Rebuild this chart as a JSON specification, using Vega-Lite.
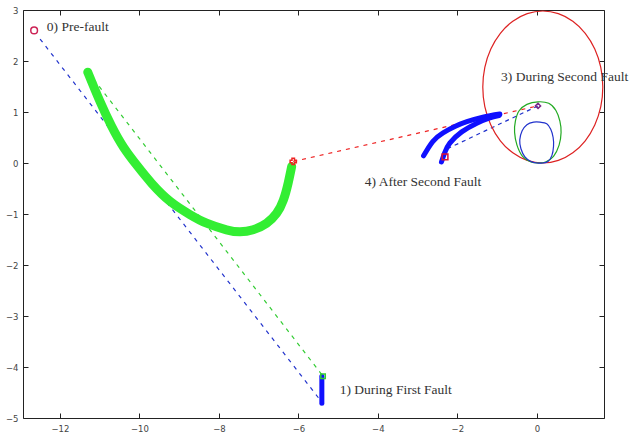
{
  "$schema": "https://vega.github.io/schema/vega-lite/v6.json",
  "width": 581,
  "height": 408,
  "autosize": {"type": "none"},
  "padding": {"left": 23, "top": 10, "right": 33, "bottom": 17},
  "background": "white",
  "config": {
    "view": {"stroke": "#222", "strokeWidth": 1},
    "axis": {"grid": false, "domain": false, "labelFont": "DejaVu Sans", "labelFontSize": 8, "labelColor": "#444", "tickColor": "#222", "tickSize": -5, "tickWidth": 1, "title": null}
  },
  "datasets": {
    "lines": [
      {"series": "blueDash", "order": 1, "x": -12.5, "y": 2.43},
      {"series": "blueDash", "order": 2, "x": -5.41, "y": -4.69},
      {"series": "greenDash", "order": 1, "x": -11.29, "y": 1.78},
      {"series": "greenDash", "order": 2, "x": -5.38, "y": -4.18},
      {"series": "redDash", "order": 1, "x": -6.13, "y": 0.03},
      {"series": "redDash", "order": 2, "x": 0.03, "y": 1.12},
      {"series": "blueDash2", "order": 1, "x": -2.25, "y": 0.28},
      {"series": "blueDash2", "order": 2, "x": 0.03, "y": 1.12},
      {"series": "greenCurve", "order": 1, "x": -11.3, "y": 1.78},
      {"series": "greenCurve", "order": 2, "x": -11.0, "y": 1.22},
      {"series": "greenCurve", "order": 3, "x": -10.7, "y": 0.72},
      {"series": "greenCurve", "order": 4, "x": -10.4, "y": 0.31},
      {"series": "greenCurve", "order": 5, "x": -10.05, "y": -0.06},
      {"series": "greenCurve", "order": 6, "x": -9.69, "y": -0.4},
      {"series": "greenCurve", "order": 7, "x": -9.23, "y": -0.75},
      {"series": "greenCurve", "order": 8, "x": -8.73, "y": -1.01},
      {"series": "greenCurve", "order": 9, "x": -8.31, "y": -1.18},
      {"series": "greenCurve", "order": 10, "x": -7.81, "y": -1.31},
      {"series": "greenCurve", "order": 11, "x": -7.47, "y": -1.35},
      {"series": "greenCurve", "order": 12, "x": -7.14, "y": -1.31},
      {"series": "greenCurve", "order": 13, "x": -6.8, "y": -1.18},
      {"series": "greenCurve", "order": 14, "x": -6.55, "y": -0.99},
      {"series": "greenCurve", "order": 15, "x": -6.38, "y": -0.73},
      {"series": "greenCurve", "order": 16, "x": -6.26, "y": -0.4},
      {"series": "greenCurve", "order": 17, "x": -6.17, "y": -0.07},
      {"series": "blueVert", "order": 1, "x": -5.41, "y": -4.18},
      {"series": "blueVert", "order": 2, "x": -5.41, "y": -4.71},
      {"series": "blueArc1", "order": 1, "x": -2.85, "y": 0.14},
      {"series": "blueArc1", "order": 2, "x": -2.62, "y": 0.42},
      {"series": "blueArc1", "order": 3, "x": -2.36, "y": 0.59},
      {"series": "blueArc1", "order": 4, "x": -2.05, "y": 0.72},
      {"series": "blueArc1", "order": 5, "x": -1.76, "y": 0.81},
      {"series": "blueArc1", "order": 6, "x": -1.36, "y": 0.9},
      {"series": "blueArc1", "order": 7, "x": -0.93, "y": 0.96},
      {"series": "blueArc2", "order": 1, "x": -2.4, "y": 0.02},
      {"series": "blueArc2", "order": 2, "x": -2.32, "y": 0.2},
      {"series": "blueArc2", "order": 3, "x": -2.19, "y": 0.39},
      {"series": "blueArc2", "order": 4, "x": -1.89, "y": 0.61},
      {"series": "blueArc2", "order": 5, "x": -1.51, "y": 0.78},
      {"series": "blueArc2", "order": 6, "x": -1.2, "y": 0.88},
      {"series": "blueArc2", "order": 7, "x": -0.95, "y": 0.93},
      {"series": "redLoop", "order": 1, "x": 1.66, "y": 1.49},
      {"series": "redLoop", "order": 2, "x": 1.609, "y": 1.876},
      {"series": "redLoop", "order": 3, "x": 1.458, "y": 2.235},
      {"series": "redLoop", "order": 4, "x": 1.218, "y": 2.544},
      {"series": "redLoop", "order": 5, "x": 0.905, "y": 2.78},
      {"series": "redLoop", "order": 6, "x": 0.541, "y": 2.929},
      {"series": "redLoop", "order": 7, "x": 0.15, "y": 2.98},
      {"series": "redLoop", "order": 8, "x": -0.241, "y": 2.929},
      {"series": "redLoop", "order": 9, "x": -0.605, "y": 2.78},
      {"series": "redLoop", "order": 10, "x": -0.918, "y": 2.544},
      {"series": "redLoop", "order": 11, "x": -1.158, "y": 2.235},
      {"series": "redLoop", "order": 12, "x": -1.309, "y": 1.876},
      {"series": "redLoop", "order": 13, "x": -1.36, "y": 1.49},
      {"series": "redLoop", "order": 14, "x": -1.309, "y": 1.104},
      {"series": "redLoop", "order": 15, "x": -1.158, "y": 0.745},
      {"series": "redLoop", "order": 16, "x": -0.918, "y": 0.436},
      {"series": "redLoop", "order": 17, "x": -0.605, "y": 0.2},
      {"series": "redLoop", "order": 18, "x": -0.241, "y": 0.051},
      {"series": "redLoop", "order": 19, "x": 0.15, "y": 0.0},
      {"series": "redLoop", "order": 20, "x": 0.541, "y": 0.051},
      {"series": "redLoop", "order": 21, "x": 0.905, "y": 0.2},
      {"series": "redLoop", "order": 22, "x": 1.218, "y": 0.436},
      {"series": "redLoop", "order": 23, "x": 1.458, "y": 0.745},
      {"series": "redLoop", "order": 24, "x": 1.609, "y": 1.104},
      {"series": "greenLoop", "order": 1, "x": 0.03, "y": 1.2},
      {"series": "greenLoop", "order": 2, "x": 0.3, "y": 1.17},
      {"series": "greenLoop", "order": 3, "x": 0.48, "y": 1.03},
      {"series": "greenLoop", "order": 4, "x": 0.58, "y": 0.82},
      {"series": "greenLoop", "order": 5, "x": 0.61, "y": 0.6},
      {"series": "greenLoop", "order": 6, "x": 0.56, "y": 0.35},
      {"series": "greenLoop", "order": 7, "x": 0.42, "y": 0.13},
      {"series": "greenLoop", "order": 8, "x": 0.22, "y": 0.02},
      {"series": "greenLoop", "order": 9, "x": 0.05, "y": 0.0},
      {"series": "greenLoop", "order": 10, "x": -0.15, "y": 0.02},
      {"series": "greenLoop", "order": 11, "x": -0.36, "y": 0.13},
      {"series": "greenLoop", "order": 12, "x": -0.5, "y": 0.35},
      {"series": "greenLoop", "order": 13, "x": -0.56, "y": 0.6},
      {"series": "greenLoop", "order": 14, "x": -0.54, "y": 0.82},
      {"series": "greenLoop", "order": 15, "x": -0.45, "y": 1.02},
      {"series": "greenLoop", "order": 16, "x": -0.25, "y": 1.15},
      {"series": "blueLoop", "order": 1, "x": 0.08, "y": 0.8},
      {"series": "blueLoop", "order": 2, "x": 0.25, "y": 0.77},
      {"series": "blueLoop", "order": 3, "x": 0.35, "y": 0.66},
      {"series": "blueLoop", "order": 4, "x": 0.41, "y": 0.5},
      {"series": "blueLoop", "order": 5, "x": 0.42, "y": 0.33},
      {"series": "blueLoop", "order": 6, "x": 0.38, "y": 0.15},
      {"series": "blueLoop", "order": 7, "x": 0.28, "y": 0.03},
      {"series": "blueLoop", "order": 8, "x": 0.15, "y": 0.0},
      {"series": "blueLoop", "order": 9, "x": 0.0, "y": 0.0},
      {"series": "blueLoop", "order": 10, "x": -0.15, "y": 0.03},
      {"series": "blueLoop", "order": 11, "x": -0.3, "y": 0.12},
      {"series": "blueLoop", "order": 12, "x": -0.4, "y": 0.28},
      {"series": "blueLoop", "order": 13, "x": -0.43, "y": 0.45},
      {"series": "blueLoop", "order": 14, "x": -0.37, "y": 0.63},
      {"series": "blueLoop", "order": 15, "x": -0.25, "y": 0.75},
      {"series": "blueLoop", "order": 16, "x": -0.08, "y": 0.8}
    ],
    "markers": [
      {"name": "prefault", "x": -12.65, "y": 2.6},
      {"name": "redstar", "x": -6.13, "y": 0.03},
      {"name": "redsquare", "x": -2.31, "y": 0.12},
      {"name": "purple", "x": 0.03, "y": 1.12},
      {"name": "greencap", "x": -5.38, "y": -4.18}
    ],
    "labels": [
      {"text": "0) Pre-fault", "x": -12.33, "y": 2.67},
      {"text": "1) During First Fault", "x": -4.96, "y": -4.45},
      {"text": "3) During Second Fault", "x": -0.9, "y": 1.69},
      {"text": "4) After Second Fault", "x": -4.33, "y": -0.37}
    ]
  },
  "resolve": {"axis": {"x": "independent", "y": "independent"}},
  "layer": [
    {
      "data": {"name": "lines"},
      "transform": [{"filter": "datum.series === 'blueDash'"}],
      "mark": {"type": "line", "color": "#2233cc", "strokeWidth": 1.2, "strokeDash": [4, 5]},
      "encoding": {
        "x": {"field": "x", "type": "quantitative", "scale": {"domain": [-12.93, 1.69], "nice": false, "zero": false},
              "axis": {"orient": "bottom", "values": [-12, -10, -8, -6, -4, -2, 0], "labelPadding": 11, "labelFontSize": 8.5}},
        "y": {"field": "y", "type": "quantitative", "scale": {"domain": [-5, 3], "nice": false, "zero": false},
              "axis": {"orient": "left", "values": [3, 2, 1, 0, -1, -2, -3, -4, -5], "labelPadding": 10, "labelFontSize": 8.5}},
        "order": {"field": "order"}
      }
    },
    {
      "data": {"name": "lines"},
      "transform": [{"filter": "datum.series === 'greenDash'"}],
      "mark": {"type": "line", "color": "#33cc33", "strokeWidth": 1.2, "strokeDash": [4, 5]},
      "encoding": {
        "x": {"field": "x", "type": "quantitative", "axis": {"orient": "top", "values": [-12, -10, -8, -6, -4, -2, 0], "labels": false}},
        "y": {"field": "y", "type": "quantitative", "axis": {"orient": "right", "values": [3, 2, 1, 0, -1, -2, -3, -4, -5], "labels": false}},
        "order": {"field": "order"}
      }
    },
    {
      "data": {"name": "lines"},
      "transform": [{"filter": "datum.series === 'redDash'"}],
      "mark": {"type": "line", "color": "#ee2222", "strokeWidth": 1.2, "strokeDash": [4, 5]},
      "encoding": {
        "x": {"field": "x", "type": "quantitative", "axis": null},
        "y": {"field": "y", "type": "quantitative", "axis": null},
        "order": {"field": "order"}
      }
    },
    {
      "data": {"name": "lines"},
      "transform": [{"filter": "datum.series === 'blueDash2'"}],
      "mark": {"type": "line", "color": "#2233cc", "strokeWidth": 1.2, "strokeDash": [4, 4]},
      "encoding": {
        "x": {"field": "x", "type": "quantitative", "axis": null},
        "y": {"field": "y", "type": "quantitative", "axis": null},
        "order": {"field": "order"}
      }
    },
    {
      "data": {"name": "lines"},
      "transform": [{"filter": "datum.series === 'redLoop'"}],
      "mark": {"type": "line", "color": "#dd2222", "strokeWidth": 1.2, "interpolate": "cardinal-closed"},
      "encoding": {
        "x": {"field": "x", "type": "quantitative", "axis": null},
        "y": {"field": "y", "type": "quantitative", "axis": null},
        "order": {"field": "order"}
      }
    },
    {
      "data": {"name": "lines"},
      "transform": [{"filter": "datum.series === 'greenLoop'"}],
      "mark": {"type": "line", "color": "#22aa22", "strokeWidth": 1.2, "interpolate": "cardinal-closed"},
      "encoding": {
        "x": {"field": "x", "type": "quantitative", "axis": null},
        "y": {"field": "y", "type": "quantitative", "axis": null},
        "order": {"field": "order"}
      }
    },
    {
      "data": {"name": "lines"},
      "transform": [{"filter": "datum.series === 'blueLoop'"}],
      "mark": {"type": "line", "color": "#2233cc", "strokeWidth": 1.2, "interpolate": "cardinal-closed"},
      "encoding": {
        "x": {"field": "x", "type": "quantitative", "axis": null},
        "y": {"field": "y", "type": "quantitative", "axis": null},
        "order": {"field": "order"}
      }
    },
    {
      "data": {"name": "lines"},
      "transform": [{"filter": "datum.series === 'greenCurve'"}],
      "mark": {"type": "line", "color": "#33ee33", "strokeWidth": 9, "strokeCap": "round", "interpolate": "natural"},
      "encoding": {
        "x": {"field": "x", "type": "quantitative", "axis": null},
        "y": {"field": "y", "type": "quantitative", "axis": null},
        "order": {"field": "order"}
      }
    },
    {
      "data": {"name": "lines"},
      "transform": [{"filter": "datum.series === 'blueArc1' || datum.series === 'blueArc2' || datum.series === 'blueVert'"}],
      "mark": {"type": "line", "color": "#1010ff", "strokeWidth": 5, "strokeCap": "round", "interpolate": "natural"},
      "encoding": {
        "x": {"field": "x", "type": "quantitative", "axis": null},
        "y": {"field": "y", "type": "quantitative", "axis": null},
        "detail": {"field": "series"},
        "order": {"field": "order"}
      }
    },
    {
      "data": {"name": "markers"},
      "mark": {"type": "point", "filled": false, "strokeWidth": 1.5, "opacity": 1},
      "encoding": {
        "x": {"field": "x", "type": "quantitative", "axis": null},
        "y": {"field": "y", "type": "quantitative", "axis": null},
        "shape": {"field": "name", "type": "nominal", "legend": null,
                  "scale": {"domain": ["prefault", "redstar", "redsquare", "purple", "greencap"], "range": ["circle", "cross", "square", "diamond", "square"]}},
        "color": {"field": "name", "type": "nominal", "legend": null,
                  "scale": {"domain": ["prefault", "redstar", "redsquare", "purple", "greencap"], "range": ["#cc2255", "#ee2222", "#dd1133", "#7a2a8a", "#33cc33"]}},
        "size": {"field": "name", "type": "nominal", "legend": null,
                 "scale": {"domain": ["prefault", "redstar", "redsquare", "purple", "greencap"], "range": [45, 20, 45, 20, 15]}}
      }
    },
    {
      "data": {"name": "labels"},
      "mark": {"type": "text", "font": "Liberation Serif", "fontSize": 13.5, "color": "#333", "align": "left", "baseline": "middle"},
      "encoding": {
        "x": {"field": "x", "type": "quantitative", "axis": null},
        "y": {"field": "y", "type": "quantitative", "axis": null},
        "text": {"field": "text"}
      }
    }
  ]
}
